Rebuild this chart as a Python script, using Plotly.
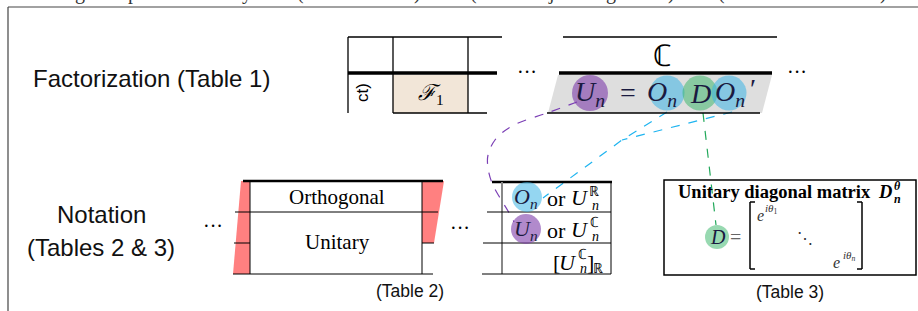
import plotly.graph_objects as go

# ---------------- data (labels / texts) ----------------
row_labels = ["Factorization (Table 1)", "Notation", "(Tables 2 & 3)"]
table_captions = ["(Table 2)", "(Table 3)"]
table1_cells = ["ℱ", "1"]
table1_header = "ℂ"
table2_rows = ["Orthogonal", "Unitary"]
table3_title = "Unitary diagonal matrix"
cut_caption_glyphs = ["g", "p", "y", "(", ")", "(", "j", "g", ")", "(", ")"]
ellipsis = "···"

# ---------------- geometry / style ----------------
SERIF = "Liberation Serif"
SANS = "Liberation Sans"
W, H = 918, 311
cut_caption_x = [80, 133, 247, 300, 417, 473, 551, 611, 671, 721, 883]

PURPLE_F = "rgba(125,60,170,0.6)"
BLUE_F = "rgba(60,180,230,0.55)"
GREEN_F = "rgba(50,180,100,0.5)"
PURPLE_L = "#7b3fb5"
BLUE_L = "#1eb4f0"
GREEN_L = "#21a85a"

fig = go.Figure()
shapes = []
ann = []


def line(x0, y0, x1, y1, w=1.3, c="black"):
    shapes.append(dict(type="line", x0=x0, y0=y0, x1=x1, y1=y1,
                       line=dict(color=c, width=w), layer="above"))


def poly(path, fill):
    shapes.append(dict(type="path", path=path, fillcolor=fill,
                       line=dict(width=0), layer="below"))


def circle(cx, cy, r, fill):
    shapes.append(dict(type="circle", x0=cx - r, x1=cx + r, y0=cy - r, y1=cy + r,
                       fillcolor=fill, line=dict(width=0), layer="above"))


def text(x, y, t, size, family=SERIF, color="black", xa="center", ya="middle", angle=0):
    ann.append(dict(x=x, y=y, text=t, showarrow=False, xref="x", yref="y",
                    xanchor=xa, yanchor=ya, textangle=angle,
                    font=dict(family=family, size=size, color=color)))


# frame
line(8, 7, W, 7, 1.2, "#444")
line(8, 7, 8, H, 1.2, "#444")

# cut caption at the very top (only descenders visible)
for g, gx in zip(cut_caption_glyphs, cut_caption_x):
    ann.append(dict(x=gx, y=1, xref="x", yref="paper", text=g, showarrow=False,
                    xanchor="center", yanchor="bottom", yshift=-6,
                    font=dict(family=SERIF, size=20, color="#333")))

# ---------- Table 1 fragment ----------
poly("M393,75 L468,75 L468,113 L393,113 Z", "#f2e6d8")
line(348, 37, 502, 37)
line(348, 37, 348, 113)
line(393, 37, 393, 113)
line(468, 37, 468, 113)
line(348, 73, 497, 73, 3.5)
line(393, 113, 487, 113)
text(431, 94, "<i>" + table1_cells[0] + "</i><sub>" + table1_cells[1] + "</sub>", 22)
text(362, 93, "ct)", 17, SANS, angle=-90)
text(527, 72, ellipsis, 20)

# C table
poly("M558,75 L772,75 L762,113 L548,113 Z", "#dedede")
line(563, 37, 777, 37, 1.5)
line(559, 73, 772, 73, 3.5)
line(547, 113, 760, 113, 1.5)
text(662, 55, table1_header, 30)
text(797, 72, ellipsis, 20)

circle(590, 93, 18, PURPLE_F)
circle(667, 93, 17.5, BLUE_F)
circle(700, 93, 17.5, GREEN_F)
circle(729, 93, 17.5, BLUE_F)
eq_color = "#1a1a40"
text(590, 93, "<i>U</i><sub><i>n</i></sub>", 28, color=eq_color)
text(628, 92, "=", 28, color=eq_color)
text(662, 93, "<i>O</i><sub><i>n</i></sub>", 28, color=eq_color)
text(700, 93, "<i>D</i>", 28, color=eq_color)
text(730, 93, "<i>O</i><sub><i>n</i></sub>", 28, color=eq_color)
text(753, 88, "′", 28, color=eq_color)

# row labels
text(151, 78, row_labels[0], 24, SANS, "#111")
text(101, 214, row_labels[1], 24, SANS, "#111")
text(101, 247, row_labels[2], 24, SANS, "#111")

# ---------- Table 2 fragment ----------
text(213, 226, ellipsis, 20)
poly("M241,181 L250,181 L250,274 L233,274 Z", "#ff8080")
poly("M422,181 L444,181 L434,243 L422,243 Z", "#ff8080")
line(243, 181, 443, 181, 2.5)
line(250, 181, 250, 274, 1)
line(422, 181, 422, 274, 1)
line(235, 212, 438, 212, 1)
line(234, 243, 250, 243, 1)
line(422, 243, 434, 243, 1)
line(233, 274, 433, 274, 1)
text(337, 197, table2_rows[0], 21)
text(337, 242, table2_rows[1], 21)
text(410, 291, table_captions[0], 17.5, SANS, "#111")

text(460, 228, ellipsis, 20)
line(492, 182, 612, 182, 2.5)
line(502, 182, 502, 274, 2, "#888")
line(611, 182, 611, 274, 1)
line(487, 212, 611, 212, 1)
line(483, 243, 611, 243, 1)
line(482, 274, 611, 274, 1)

circle(527, 197, 15, BLUE_F)
circle(526, 229, 15, PURPLE_F)
text(526, 198, "<i>O</i><sub><i>n</i></sub>", 22, color=eq_color)
text(526, 230, "<i>U</i><sub><i>n</i></sub>", 22, color=eq_color)
text(556, 198, "or", 22)
text(556, 230, "or", 22)
text(580, 197, "<i>U</i>", 22)
text(594, 191, "ℝ", 14)
text(595, 205, "<i>n</i>", 14)
text(580, 229, "<i>U</i>", 22)
text(594, 222, "ℂ", 14)
text(595, 236, "<i>n</i>", 14)
text(556, 262, "[", 22)
text(568, 262, "<i>U</i>", 22)
text(582, 254, "ℂ", 14)
text(583, 268, "<i>n</i>", 14)
text(590, 262, "]", 22)
text(598, 268, "ℝ", 14)

# ---------- Table 3 ----------
shapes.append(dict(type="rect", x0=664, y0=180, x1=916, y1=275,
                   line=dict(color="black", width=1.5), layer="above"))
text(774, 192, "<b>" + table3_title + "</b>", 18.5)
text(885, 192, "<b><i>D</i></b>", 18.5)
text(897, 186, "<b><i>θ</i></b>", 12)
text(897, 199, "<b><i>n</i></b>", 12)
# brackets
line(750, 202, 750, 269, 1.5)
line(750, 202, 755, 202, 1.5)
line(750, 269, 755, 269, 1.5)
line(862, 202, 862, 269, 1.5)
line(857, 202, 862, 202, 1.5)
line(857, 269, 862, 269, 1.5)
text(760, 215, "<i>e</i>", 16, color="#333")
text(771, 209, "<i>iθ</i><sub>1</sub>", 11, color="#333")
text(836, 262, "<i>e</i>", 16, color="#333")
text(849, 256, "<i>iθ</i><sub><i>n</i></sub>", 11, color="#333")
text(805, 238, "⋱", 16, color="#333")
circle(717, 237, 12, GREEN_F)
text(718, 237, "<i>D</i>", 20, color=eq_color)
text(735, 237, "=", 20, color="#666")
text(790, 292, table_captions[1], 17.5, SANS, "#111")

# ---------- dashed connectors ----------
fig.add_trace(go.Scatter(
    x=[577, 547, 512, 495, 488, 488, 492, 500, 508, 514],
    y=[102, 113, 126, 140, 155, 168, 183, 198, 211, 222],
    mode="lines", line=dict(color=PURPLE_L, width=1.2, dash="dash", shape="spline"),
    hoverinfo="skip"))
fig.add_trace(go.Scatter(x=[667, 622, 543], y=[112, 140, 198], mode="lines",
                         line=dict(color=BLUE_L, width=1.2, dash="dash"), hoverinfo="skip"))
fig.add_trace(go.Scatter(x=[732, 622], y=[112, 140], mode="lines",
                         line=dict(color=BLUE_L, width=1.2, dash="dash"), hoverinfo="skip"))
fig.add_trace(go.Scatter(x=[703, 716], y=[113, 225], mode="lines",
                         line=dict(color=GREEN_L, width=1.2, dash="dash"), hoverinfo="skip"))

fig.update_layout(
    width=W, height=H, margin=dict(l=0, r=0, t=0, b=0),
    paper_bgcolor="white", plot_bgcolor="white", showlegend=False,
    xaxis=dict(range=[0, W], visible=False, fixedrange=True),
    yaxis=dict(range=[H, 0], visible=False, fixedrange=True),
    shapes=shapes, annotations=ann,
)

fig.write_html("out.html", config={"displayModeBar": False},
               post_script="document.body.style.margin='0';")
